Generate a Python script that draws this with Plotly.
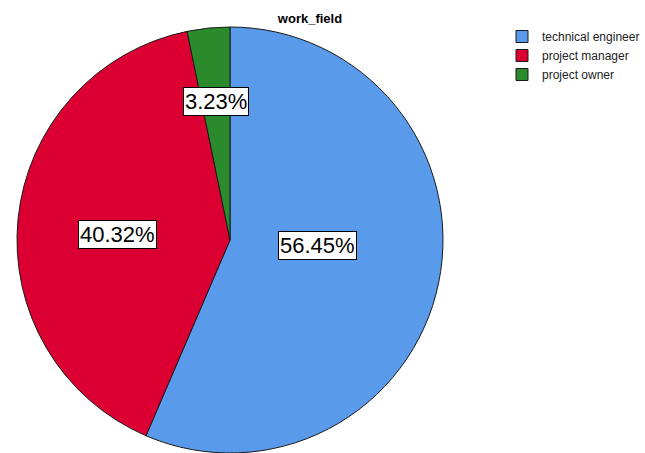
import plotly.graph_objects as go

# work_field counts
categories = ["technical engineer", "project manager", "project owner"]
counts = [35, 25, 2]
colors = ["#5A9AEA", "#DC0032", "#2B8A2B"]

# label anchor points (pixels from top-left) for the boxed percentage labels
label_x = [317, 117, 216]
label_y = [245, 234, 101]

W, H = 645, 453
total = sum(counts)
pcts = [c / total * 100 for c in counts]

fig = go.Figure(go.Pie(
    labels=categories,
    values=counts,
    sort=False,
    direction="clockwise",
    rotation=0,
    marker=dict(colors=colors, line=dict(color="#1a1a1a", width=1)),
    textinfo="none",
    hoverinfo="label+percent",
    domain=dict(x=[10 / W, 450 / W], y=[0, 426 / H]),
))

for p, lx, ly in zip(pcts, label_x, label_y):
    fig.add_annotation(
        x=lx / W, y=1 - ly / H, xref="paper", yref="paper",
        xanchor="center", yanchor="middle",
        text=f"{p:.2f}%", showarrow=False,
        font=dict(family="Liberation Sans, Arial", size=22, color="black"),
        bgcolor="white", bordercolor="black", borderwidth=1, borderpad=1,
    )

fig.update_layout(
    width=W, height=H,
    margin=dict(l=0, r=0, t=0, b=0, autoexpand=False),
    paper_bgcolor="white",
    title=dict(text="<b>work_field</b>", x=310 / W, xanchor="center",
               y=1 - 18 / H, yanchor="middle",
               font=dict(family="Liberation Sans, Arial", size=13, color="black")),
    legend=dict(x=1, y=1 - 22 / H, xanchor="right", yanchor="top",
                font=dict(family="Liberation Sans, Arial", size=12, color="#222222"),
                itemwidth=30, tracegroupgap=0, bgcolor="rgba(0,0,0,0)"),
)

fig.write_html("out.html")
